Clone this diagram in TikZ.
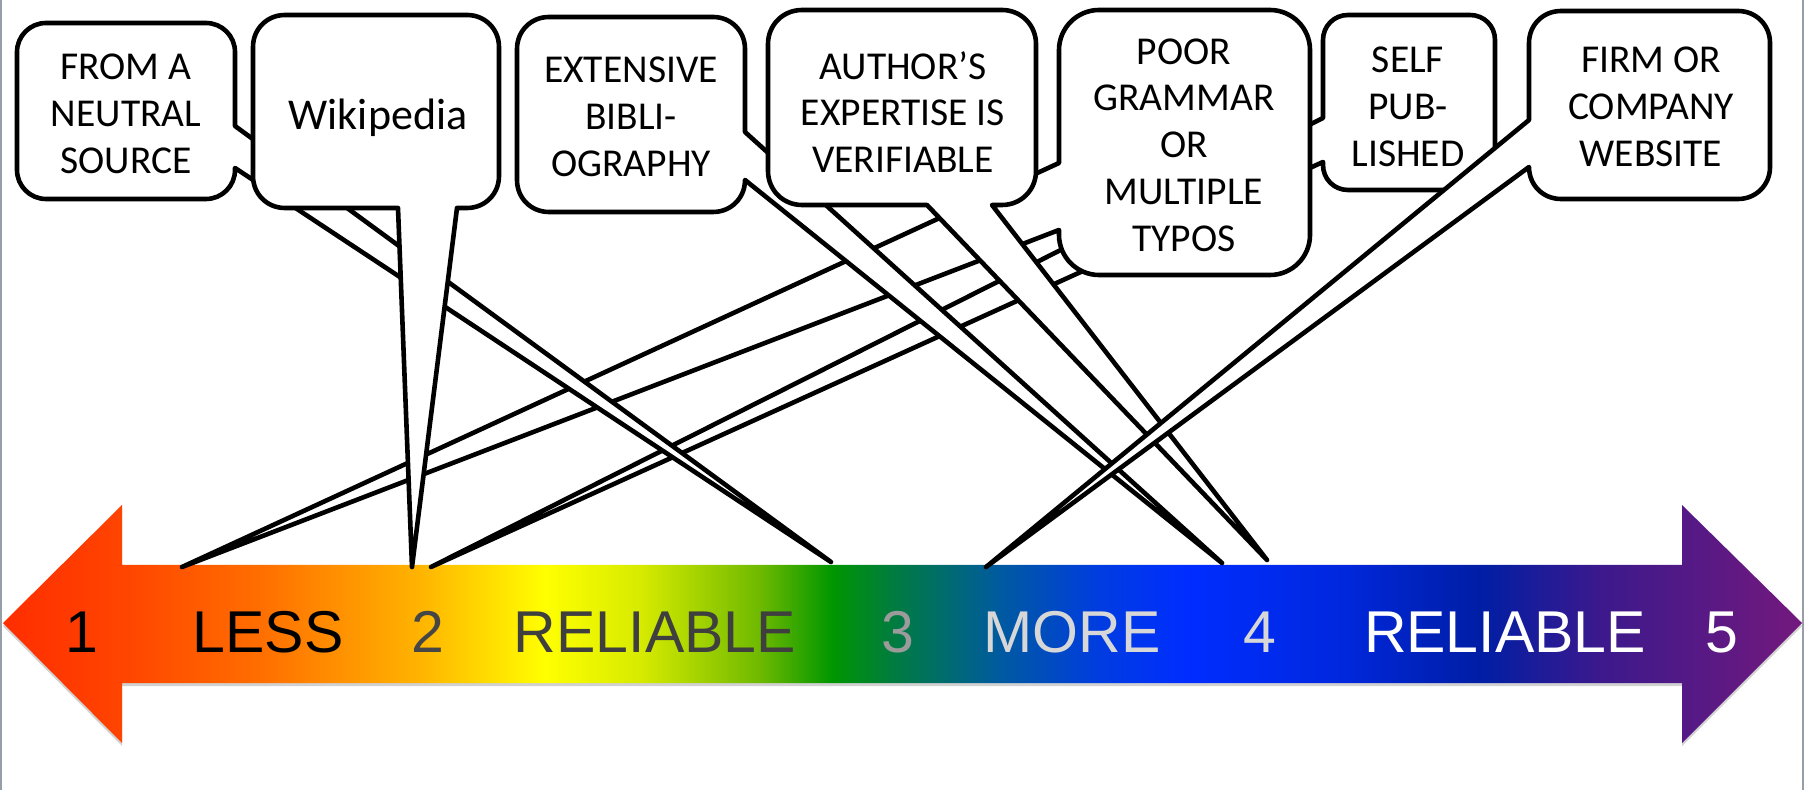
\documentclass[tikz,border=0pt]{standalone}
\usepackage{fontspec}
\setmainfont{Carlito}
\newfontfamily\arrowfont{Liberation Sans}
\usepackage{tikz}
\definecolor{sh0}{RGB}{255, 45, 0}
\definecolor{sh1}{RGB}{255, 70, 0}
\definecolor{sh2}{RGB}{255, 110, 0}
\definecolor{sh3}{RGB}{255, 180, 0}
\definecolor{sh4}{RGB}{255, 255, 0}
\definecolor{sh5}{RGB}{215, 235, 0}
\definecolor{sh6}{RGB}{110, 185, 0}
\definecolor{sh7}{RGB}{0, 150, 0}
\definecolor{sh8}{RGB}{0, 125, 60}
\definecolor{sh9}{RGB}{0, 90, 160}
\definecolor{sh10}{RGB}{0, 60, 225}
\definecolor{sh11}{RGB}{0, 45, 255}
\definecolor{sh12}{RGB}{0, 40, 225}
\definecolor{sh13}{RGB}{0, 30, 165}
\definecolor{sh14}{RGB}{60, 25, 140}
\definecolor{sh15}{RGB}{115, 25, 125}
\definecolor{txtdark}{RGB}{70, 70, 70}
\definecolor{txtmid}{RGB}{155, 155, 155}
\definecolor{txtlight}{RGB}{215, 215, 215}
\definecolor{edgegray}{RGB}{150, 158, 168}
\pgfdeclarehorizontalshading{reliability}{100bp}{color(0bp)=(sh0); color(25bp)=(sh0); color(28.53bp)=(sh1); color(32.14bp)=(sh2); color(36.59bp)=(sh3); color(40.06bp)=(sh4); color(42.70bp)=(sh5); color(46.04bp)=(sh6); color(48.04bp)=(sh7); color(49.65bp)=(sh8); color(52.71bp)=(sh9); color(55.49bp)=(sh10); color(57.93bp)=(sh11); color(61.88bp)=(sh12); color(66.05bp)=(sh13); color(69.39bp)=(sh14); color(75bp)=(sh15); color(100bp)=(sh15)}
\tikzset{
  callout/.style={draw=black, fill=white, line width=2.3pt, line join=round},
  boxtext/.style={align=center, inner sep=0pt, font=\fontsize{19.75}{23.4}\selectfont},
  scaletext/.style={anchor=base, inner sep=0pt, font=\arrowfont\fontsize{29.5}{32}\selectfont}
}

\begin{document}
\begin{tikzpicture}[scale=0.5]
\useasboundingbox (0pt, 0pt) rectangle (1804pt, -790pt);
\draw [line width=1pt, color=edgegray] (1pt, 0pt) -- (1pt, -790pt);
\draw [line width=1pt, color=edgegray] (1803pt, 0pt) -- (1803pt, -790pt);
\fill [color=black!18, yshift=-3pt] (3pt, -623pt) -- (122pt, -505pt) -- (122pt, -565pt) -- (1682pt, -565pt) -- (1682pt, -505pt) -- (1802pt, -623pt) -- (1682pt, -743pt) -- (1682pt, -683pt) -- (122pt, -683pt) -- (122pt, -743pt) -- cycle;
\shade [shading=reliability] (3pt, -623pt) -- (122pt, -505pt) -- (122pt, -565pt) -- (1682pt, -565pt) -- (1682pt, -505pt) -- (1802pt, -623pt) -- (1682pt, -743pt) -- (1682pt, -683pt) -- (122pt, -683pt) -- (122pt, -743pt) -- cycle;
\node (one) [scaletext, color=black] at (82pt, -653pt) {1};
\node (less) [scaletext, color=black] at (268pt, -653pt) {LESS};
\node (two) [scaletext, color=txtdark] at (428pt, -653pt) {2};
\node (reliableA) [scaletext, color=txtdark!90!black] at (655pt, -653pt) {RELIABLE};
\node (three) [scaletext, color=txtmid] at (898pt, -653pt) {3};
\node (more) [scaletext, color=txtlight] at (1072pt, -653pt) {MORE};
\node (four) [scaletext, color=txtlight] at (1260pt, -653pt) {4};
\node (reliableB) [scaletext, color=white] at (1505pt, -653pt) {RELIABLE};
\node (five) [scaletext, color=white] at (1722pt, -653pt) {5};
\coordinate (tippg) at (182pt, -567pt);
\coordinate (tipwk) at (412pt, -567pt);
\coordinate (tipsp) at (431pt, -567pt);
\coordinate (tipfa) at (831pt, -562pt);
\coordinate (tipfw) at (986pt, -567pt);
\coordinate (tipex) at (1222pt, -563pt);
\coordinate (tipau) at (1267pt, -560pt);
\draw [callout] (1348pt, -15pt) -- (1470pt, -15pt) .. controls (1484pt, -15pt) and (1495pt, -26pt) .. (1495pt, -40pt) -- (1495pt, -165pt) .. controls (1495pt, -179pt) and (1484pt, -190pt) .. (1470pt, -190pt) -- (1348pt, -190pt) .. controls (1334pt, -190pt) and (1323pt, -179pt) .. (1323pt, -165pt) -- (1323pt, -162pt) -- (tipsp) -- (1323pt, -118pt) -- (1323pt, -40pt) .. controls (1323pt, -26pt) and (1334pt, -15pt) .. (1348pt, -15pt) -- cycle;
\node (sp) [boxtext] at (1408pt, -107pt) {SELF\\PUB-\\LISHED};
\draw [callout] (1099pt, -10pt) -- (1270pt, -10pt) .. controls (1292pt, -10pt) and (1310pt, -28pt) .. (1310pt, -50pt) -- (1310pt, -235pt) .. controls (1310pt, -257pt) and (1292pt, -275pt) .. (1270pt, -275pt) -- (1099pt, -275pt) .. controls (1077pt, -275pt) and (1059pt, -257pt) .. (1059pt, -235pt) -- (1059pt, -230pt) -- (tippg) -- (1059pt, -163pt) -- (1059pt, -50pt) .. controls (1059pt, -28pt) and (1077pt, -10pt) .. (1099pt, -10pt) -- cycle;
\node (pg) [boxtext] at (1184pt, -145pt) {POOR\\GRAMMAR\\OR\\MULTIPLE\\TYPOS};
\draw [callout] (46pt, -23pt) -- (206pt, -23pt) .. controls (222pt, -23pt) and (235pt, -36pt) .. (235pt, -52pt) -- (235pt, -126pt) -- (tipfa) -- (235pt, -168pt) -- (235pt, -170pt) .. controls (235pt, -186pt) and (222pt, -199pt) .. (206pt, -199pt) -- (46pt, -199pt) .. controls (30pt, -199pt) and (17pt, -186pt) .. (17pt, -170pt) -- (17pt, -52pt) .. controls (17pt, -36pt) and (30pt, -23pt) .. (46pt, -23pt) -- cycle;
\node (fa) [boxtext] at (126pt, -114pt) {FROM A\\NEUTRAL\\SOURCE};
\draw [callout] (285pt, -15pt) -- (467pt, -15pt) .. controls (485pt, -15pt) and (499pt, -29pt) .. (499pt, -47pt) -- (499pt, -176pt) .. controls (499pt, -194pt) and (485pt, -208pt) .. (467pt, -208pt) -- (457pt, -208pt) -- (tipwk) -- (398pt, -208pt) -- (285pt, -208pt) .. controls (267pt, -208pt) and (253pt, -194pt) .. (253pt, -176pt) -- (253pt, -47pt) .. controls (253pt, -29pt) and (267pt, -15pt) .. (285pt, -15pt) -- cycle;
\node (wk) [boxtext, font=\fontsize{22}{26}\selectfont] at (378pt, -118pt) {Wikipedia};
\draw [callout] (549pt, -17pt) -- (713pt, -17pt) .. controls (731pt, -17pt) and (745pt, -31pt) .. (745pt, -49pt) -- (745pt, -132pt) -- (tipex) -- (745pt, -180pt) .. controls (745pt, -198pt) and (731pt, -212pt) .. (713pt, -212pt) -- (549pt, -212pt) .. controls (531pt, -212pt) and (517pt, -198pt) .. (517pt, -180pt) -- (517pt, -49pt) .. controls (517pt, -31pt) and (531pt, -17pt) .. (549pt, -17pt) -- cycle;
\node (ex) [boxtext] at (631pt, -117pt) {EXTENSIVE\\BIBLI-\\OGRAPHY};
\draw [callout] (802pt, -10pt) -- (1002pt, -10pt) .. controls (1021pt, -10pt) and (1036pt, -25pt) .. (1036pt, -44pt) -- (1036pt, -171pt) .. controls (1036pt, -190pt) and (1021pt, -205pt) .. (1002pt, -205pt) -- (992pt, -205pt) -- (tipau) -- (927pt, -205pt) -- (802pt, -205pt) .. controls (783pt, -205pt) and (768pt, -190pt) .. (768pt, -171pt) -- (768pt, -44pt) .. controls (768pt, -25pt) and (783pt, -10pt) .. (802pt, -10pt) -- cycle;
\node (au) [boxtext] at (903pt, -112pt) {AUTHOR’S\\EXPERTISE IS\\VERIFIABLE};
\draw [callout] (1561pt, -11pt) -- (1738pt, -11pt) .. controls (1756pt, -11pt) and (1770pt, -25pt) .. (1770pt, -43pt) -- (1770pt, -167pt) .. controls (1770pt, -185pt) and (1756pt, -199pt) .. (1738pt, -199pt) -- (1561pt, -199pt) .. controls (1543pt, -199pt) and (1529pt, -185pt) .. (1529pt, -167pt) -- (tipfw) -- (1529pt, -120pt) -- (1529pt, -43pt) .. controls (1529pt, -25pt) and (1543pt, -11pt) .. (1561pt, -11pt) -- cycle;
\node (fw) [boxtext] at (1651pt, -107pt) {FIRM OR\\COMPANY\\WEBSITE};
\end{tikzpicture}
\end{document}
